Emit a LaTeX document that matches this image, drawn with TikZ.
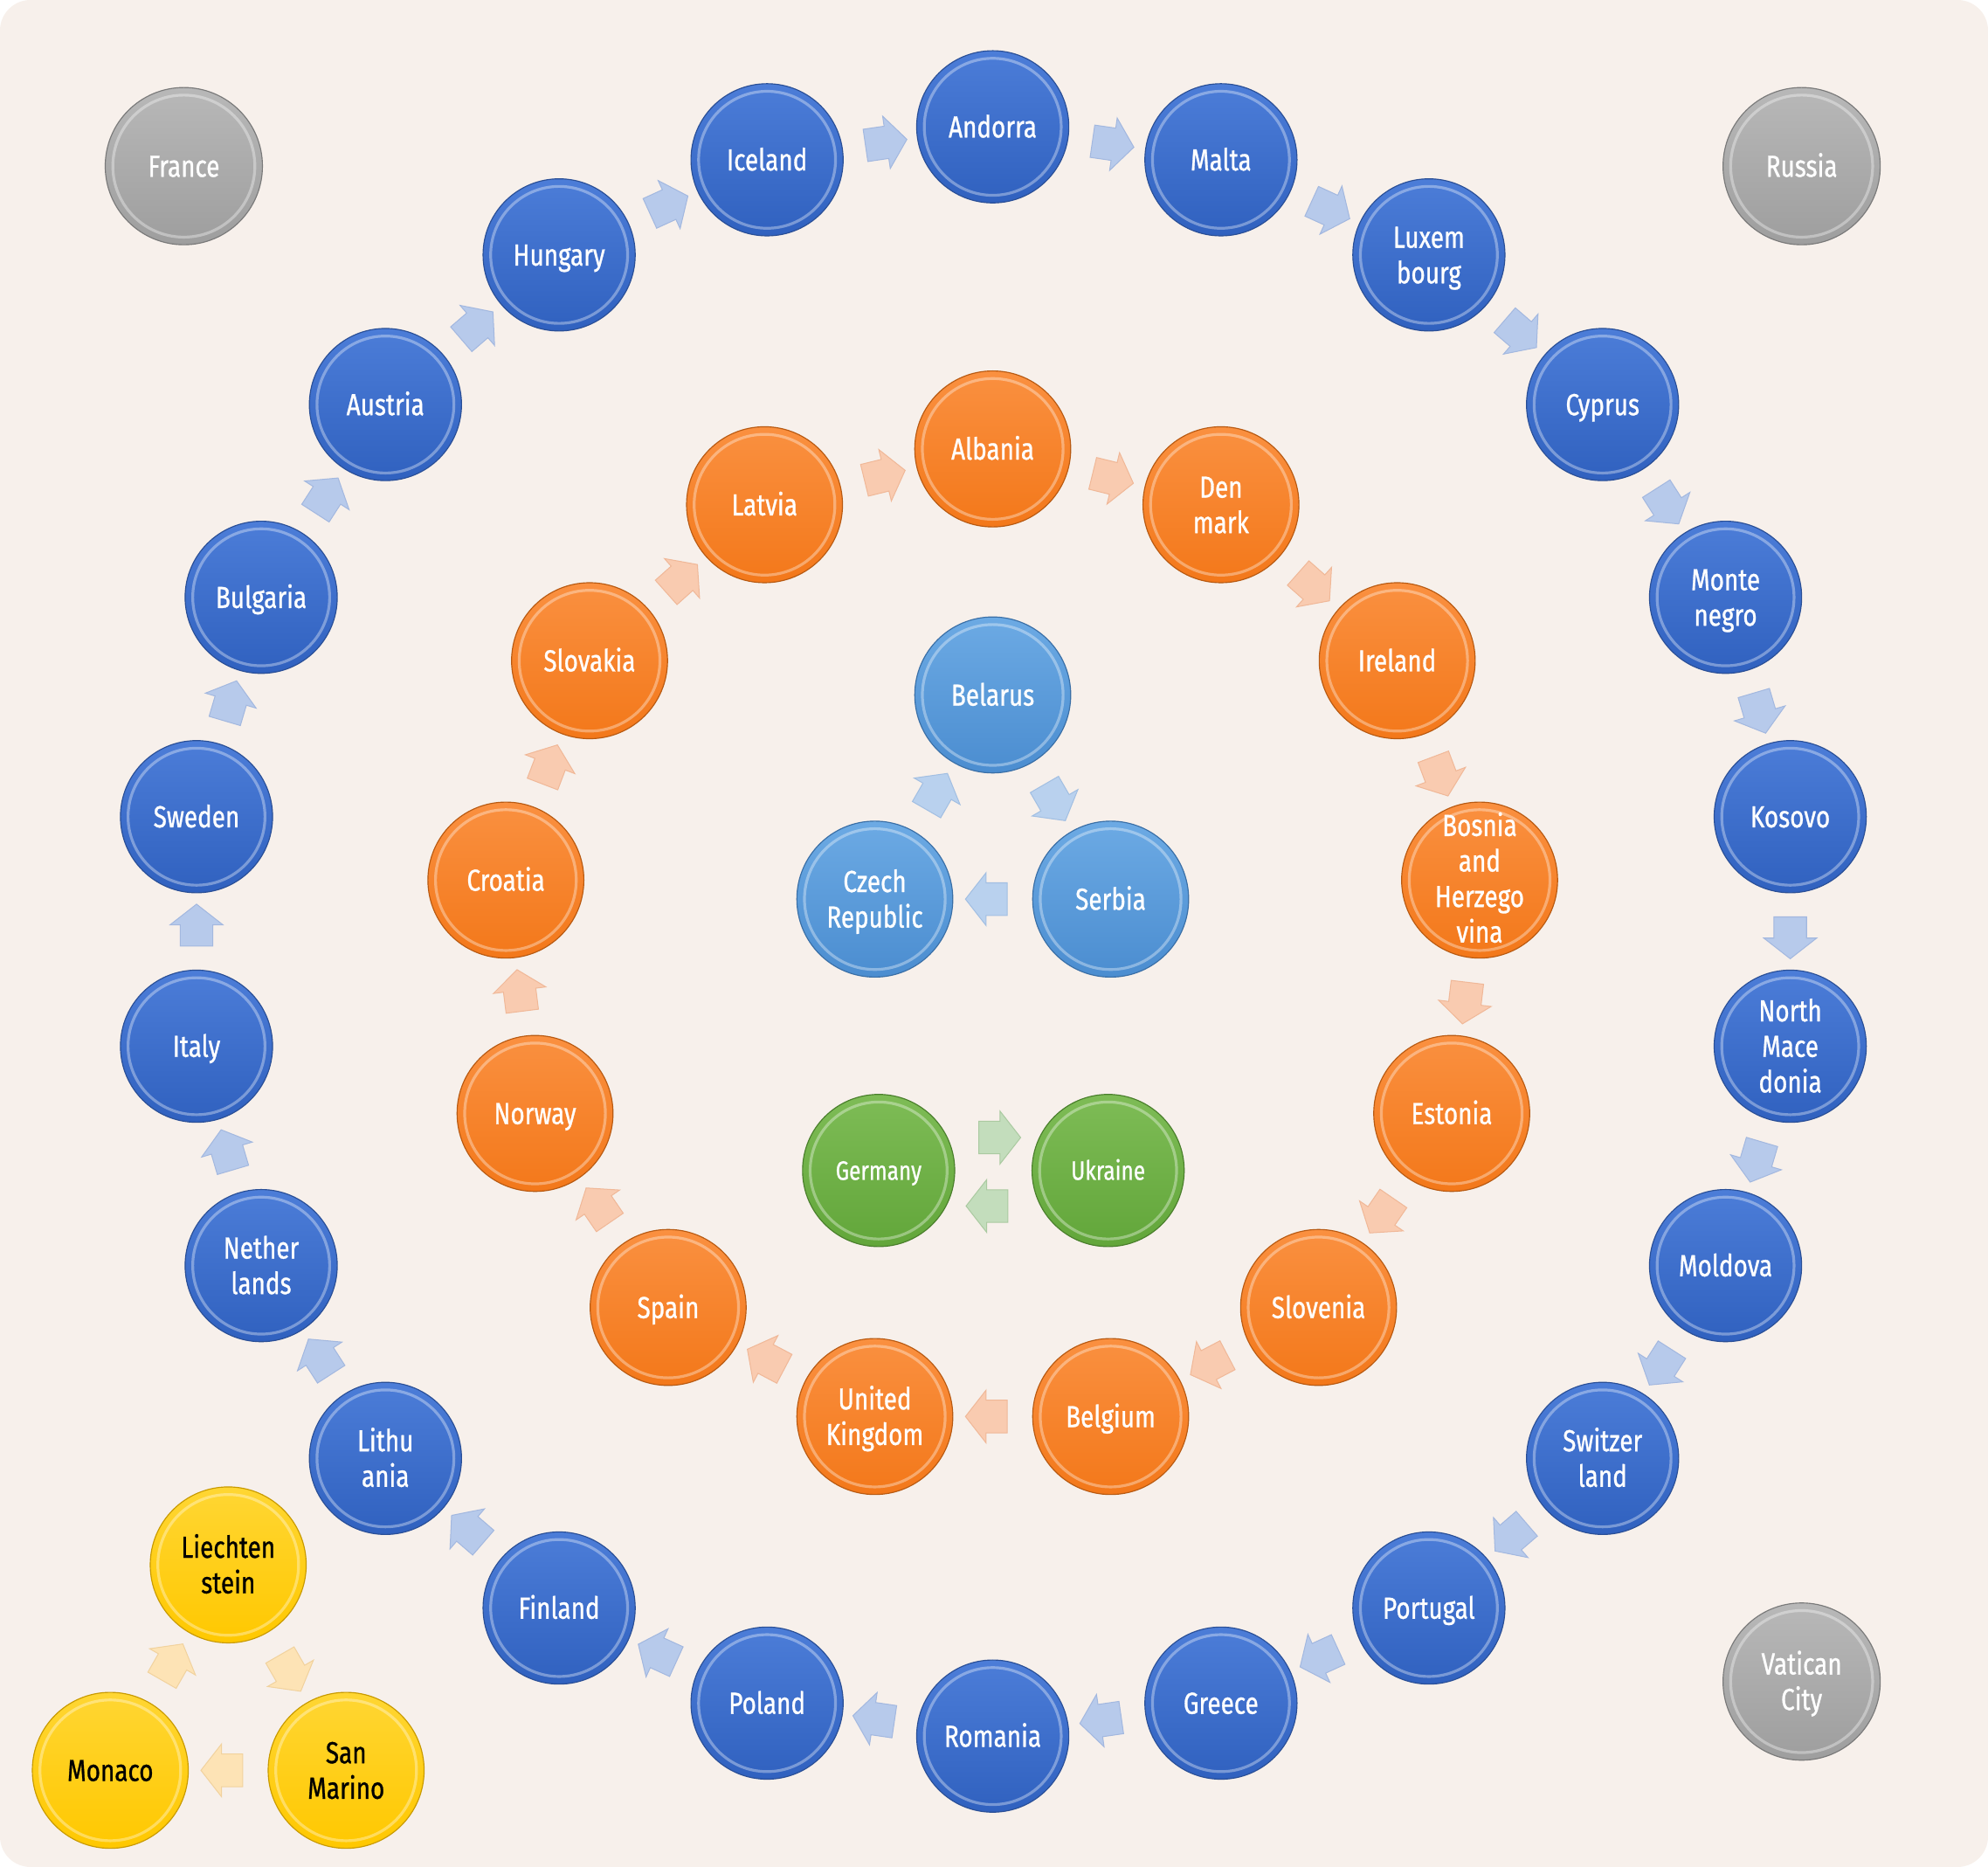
\documentclass[tikz,border=0pt]{standalone}
\usepackage{fontspec}
\setmainfont{Fira Sans}[FakeStretch=0.8, FakeBold=0.8]
\usetikzlibrary{shapes.arrows}
\newcommand\topstrut{\rule{0pt}{1.0em}}
\newcommand\bosstrut{\rule{0pt}{0.9em}}
\newcommand\botstrut{\rule[-0.3em]{0pt}{0.3em}}
\definecolor{bgcol}{HTML}{F7F0EB}
\definecolor{bltop}{HTML}{4C7DD8}\definecolor{blbot}{HTML}{3061BF}\definecolor{bldark}{HTML}{2A4F96}
\definecolor{ortop}{HTML}{FA9040}\definecolor{orbot}{HTML}{F3781A}\definecolor{ordark}{HTML}{B85A12}
\definecolor{lbtop}{HTML}{6CAAE4}\definecolor{lbbot}{HTML}{4B8DD0}\definecolor{lbdark}{HTML}{3A6FA6}
\definecolor{grtop}{HTML}{7EBC56}\definecolor{grbot}{HTML}{62A63A}\definecolor{grdark}{HTML}{4A7F2C}
\definecolor{yetop}{HTML}{FFD633}\definecolor{yebot}{HTML}{FFC800}\definecolor{yedark}{HTML}{C89A00}
\definecolor{gytop}{HTML}{B8B8B8}\definecolor{gybot}{HTML}{9E9E9E}\definecolor{gydark}{HTML}{7A7A7A}
\definecolor{blfill}{HTML}{B7CAEB}\definecolor{blline}{HTML}{A3B8DF}
\definecolor{lbfill}{HTML}{B9D1EE}\definecolor{lbline}{HTML}{A2BFE2}
\definecolor{orfill}{HTML}{F9CBB0}\definecolor{orline}{HTML}{F0B898}
\definecolor{grfill}{HTML}{C3DDBC}\definecolor{grline}{HTML}{ABCAA1}
\definecolor{yefill}{HTML}{FDE3B5}\definecolor{yeline}{HTML}{F1D29E}
\tikzset{
  ball/.style 2 args={circle, minimum size=#2, inner sep=0pt, align=center,
    font=\fontsize{24}{28}\selectfont, text=white,
    execute at begin node=\topstrut, execute at end node=\botstrut,
    draw=#1dark, line width=0.8pt, top color=#1top, bottom color=#1bot,
    path picture={\draw[white, opacity=0.35, line width=2.2pt]
      (path picture bounding box.center) circle ({#2/2-6pt});}},
  bball/.style={ball={bl}{120pt}},
  oball/.style={ball={or}{123pt}},
  lball/.style={ball={lb}{123pt}},
  gball/.style={ball={gr}{120pt}, font=\fontsize{21}{24}\selectfont},
  yball/.style={ball={ye}{123pt}, text=black},
  xball/.style={ball={gy}{124pt}},
  fourline/.style={inner sep=-12pt},
  arr/.style={single arrow, draw=#1line, fill=#1fill, line width=0.7pt,
    minimum height=33pt, minimum width=41pt, inner xsep=0pt, inner ysep=12.5pt,
    single arrow head extend=8pt, single arrow tip angle=104,
    sloped, allow upside down, midway}
}
\begin{document}
\begin{tikzpicture}[x=1pt,y=-1pt]
\useasboundingbox (0,0) rectangle (1568,1472.2);
\fill[bgcol, rounded corners=24pt] (0,0) rectangle (1568,1472.2);
% grey
\node[xball] (france) at (145,131) {France};
\node[xball] (russia) at (1421,131) {Russia};
\node[xball] (vatican) at (1421,1326) {\topstrut Vatican\\City};
% blue ring
\node[bball] (andorra) at (783,100) {Andorra};
\node[bball] (malta) at (963,126) {Malta};
\node[bball] (luxem) at (1127,201) {\topstrut Luxem\\bourg};
\node[bball] (cyprus) at (1264,319) {Cyprus};
\node[bball] (monte) at (1361,471) {\topstrut Monte\\negro};
\node[bball] (kosovo) at (1412,644) {Kosovo};
\node[bball] (nmace) at (1412,825) {\topstrut North\\Mace\\donia};
\node[bball] (moldova) at (1361,998) {Moldova};
\node[bball] (swiss) at (1264,1150) {\topstrut Switzer\\land};
\node[bball] (portugal) at (1127,1268) {Portugal};
\node[bball] (greece) at (963,1343) {Greece};
\node[bball] (romania) at (783,1369) {Romania};
\node[bball] (poland) at (605,1343) {Poland};
\node[bball] (finland) at (441,1268) {Finland};
\node[bball] (lithu) at (304,1150) {\topstrut Lithu\\ania};
\node[bball] (nether) at (206,998) {\topstrut Nether\\lands};
\node[bball] (italy) at (155,825) {Italy};
\node[bball] (sweden) at (155,644) {Sweden};
\node[bball] (bulgaria) at (206,471) {Bulgaria};
\node[bball] (austria) at (304,319) {Austria};
\node[bball] (hungary) at (441,201) {Hungary};
\node[bball] (iceland) at (605,126) {Iceland};
\foreach \a/\b in {iceland/andorra, andorra/malta, malta/luxem, luxem/cyprus, cyprus/monte, monte/kosovo, kosovo/nmace, nmace/moldova, moldova/swiss, swiss/portugal, portugal/greece, greece/romania, romania/poland, poland/finland, finland/lithu, lithu/nether, nether/italy, italy/sweden, sweden/bulgaria, bulgaria/austria, austria/hungary, hungary/iceland}
  \path (\a) -- (\b) node[arr=bl] {};
% orange ring
\node[oball] (albania) at (783,354) {Albania};
\node[oball] (denmark) at (963,398) {\topstrut Den\\mark};
\node[oball] (ireland) at (1102,521) {Ireland};
\node[oball, fourline] (bosnia) at (1167,694) {\bosstrut Bosnia\\and\\Herzego\\vina};
\node[oball] (estonia) at (1145,878) {Estonia};
\node[oball] (slovenia) at (1040,1031) {Slovenia};
\node[oball] (belgium) at (876,1117) {Belgium};
\node[oball] (uk) at (690,1117) {\topstrut United\\Kingdom};
\node[oball] (spain) at (527,1031) {Spain};
\node[oball] (norway) at (422,878) {Norway};
\node[oball] (croatia) at (399,694) {Croatia};
\node[oball] (slovakia) at (465,521) {Slovakia};
\node[oball] (latvia) at (603,398) {Latvia};
\foreach \a/\b in {latvia/albania, albania/denmark, denmark/ireland, ireland/bosnia, bosnia/estonia, estonia/slovenia, slovenia/belgium, belgium/uk, uk/spain, spain/norway, norway/croatia, croatia/slovakia, slovakia/latvia}
  \path (\a) -- (\b) node[arr=or] {};
% light blue triangle
\node[lball] (belarus) at (783,548) {Belarus};
\node[lball] (serbia) at (876,709) {Serbia};
\node[lball] (czech) at (690,709) {\topstrut Czech\\Republic};
\foreach \a/\b in {belarus/serbia, serbia/czech, czech/belarus}
  \path (\a) -- (\b) node[arr=lb] {};
% green pair
\node[gball] (germany) at (693,923) {Germany};
\node[gball] (ukraine) at (874,923) {Ukraine};
\path ([yshift=26pt]germany.east) -- ([yshift=26pt]ukraine.west) node[arr=gr] {};
\path ([yshift=-28pt]ukraine.west) -- ([yshift=-28pt]germany.east) node[arr=gr] {};
% yellow triangle
\node[yball] (liecht) at (180,1234) {\topstrut Liechten\\stein};
\node[yball] (sanmarino) at (273,1396) {\topstrut San\\Marino};
\node[yball] (monaco) at (87,1396) {Monaco};
\foreach \a/\b in {liecht/sanmarino, sanmarino/monaco, monaco/liecht}
  \path (\a) -- (\b) node[arr=ye] {};
\end{tikzpicture}
\end{document}
